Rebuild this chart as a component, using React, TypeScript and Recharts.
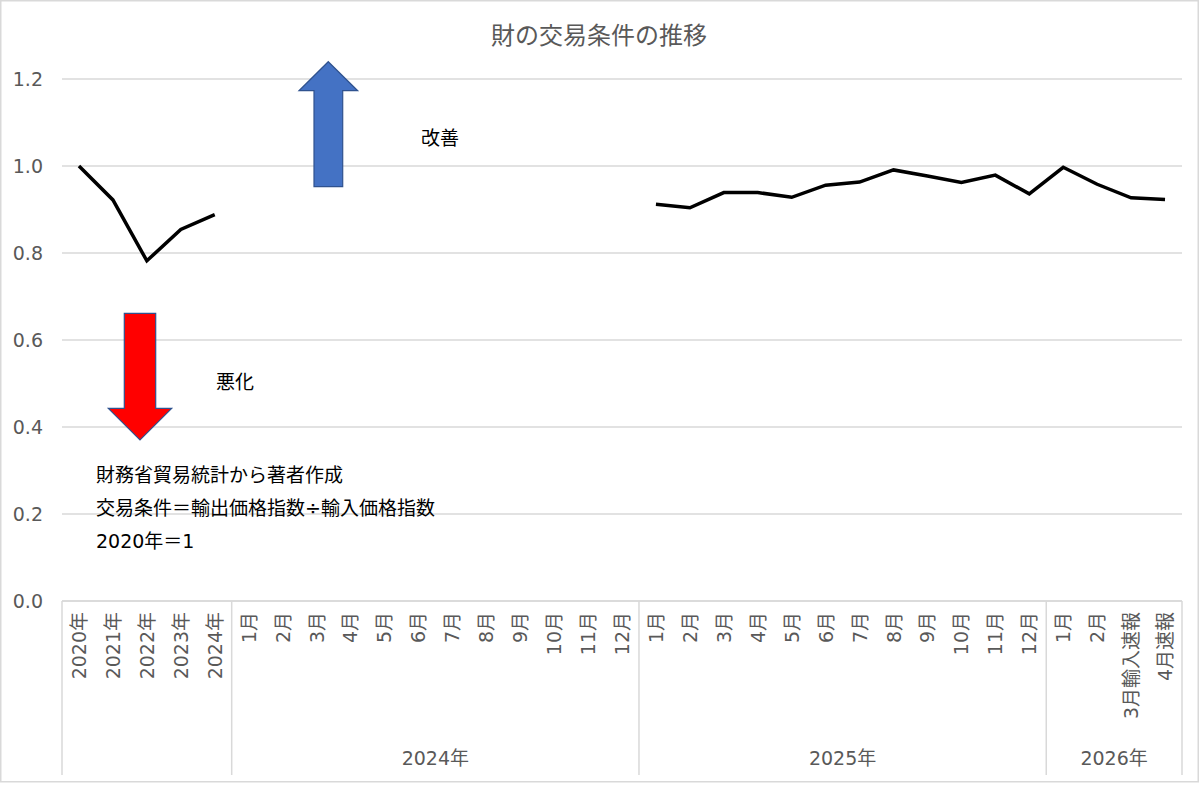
import React from 'react';
import { LineChart, Line, XAxis, YAxis, CartesianGrid } from 'recharts';

// ---- data ----
const categories: string[] = [
  '2020年', '2021年', '2022年', '2023年', '2024年',
  '1月', '2月', '3月', '4月', '5月', '6月', '7月', '8月', '9月', '10月', '11月', '12月',
  '1月', '2月', '3月', '4月', '5月', '6月', '7月', '8月', '9月', '10月', '11月', '12月',
  '1月', '2月', '3月輸入速報', '4月速報',
];

const termsOfTrade: (number | null)[] = [
  1.0, 0.922, 0.782, 0.854, 0.888,
  null, null, null, null, null, null, null, null, null, null, null, null,
  0.912, 0.904, 0.939, 0.939, 0.928, 0.956, 0.963, 0.991, 0.977, 0.962, 0.979, 0.936,
  0.997, 0.958, 0.927, 0.923,
];

const groupLabels: string[] = ['', '2024年', '2025年', '2026年'];
const groupSizes: number[] = [5, 12, 12, 4];

const yTicks: number[] = [0, 0.2, 0.4, 0.6, 0.8, 1.0, 1.2];

const title = '財の交易条件の推移';
const upLabel = '改善';
const downLabel = '悪化';
const notes: string[] = ['財務省貿易統計から著者作成', '交易条件＝輸出価格指数÷輸入価格指数', '2020年＝1'];

// ---- layout ----
const W = 1200;
const H = 785;
const MARGIN = { top: 79, right: 18, bottom: 0, left: 0 };
const Y_AXIS_W = 62;
const X_AXIS_H = 184;
const PLOT_LEFT = MARGIN.left + Y_AXIS_W;
const PLOT_RIGHT = W - MARGIN.right;
const PLOT_BOTTOM = H - MARGIN.bottom - X_AXIS_H;
const BAND = (PLOT_RIGHT - PLOT_LEFT) / categories.length;
const HALF = BAND / 2;

const FONT = '"DejaVu Sans", "Noto Sans CJK JP", sans-serif';
const GRAY_TEXT = '#595959';
const GRID = '#d9d9d9';

const data = categories.map((c, i) => ({ cat: c, value: termsOfTrade[i] }));

// group starts / centers
const groupStarts: number[] = [];
{
  let s = 0;
  groupSizes.forEach((n) => {
    groupStarts.push(s);
    s += n;
  });
}

const XTick = (props: any) => {
  const { x, payload } = props;
  const index: number = payload.index;
  const label = categories[index];
  const elems: React.ReactNode[] = [];
  const textY = PLOT_BOTTOM + 11;
  elems.push(
    <text
      key="t"
      x={0}
      y={0}
      transform={`translate(${x},${textY}) rotate(-90)`}
      textAnchor="end"
      dominantBaseline="central"
      fill={GRAY_TEXT}
      fontSize={19}
      fontFamily={FONT}
    >
      {label}
    </text>
  );
  const gi = groupStarts.indexOf(index);
  if (gi >= 0) {
    elems.push(
      <line key="s" x1={x - HALF} x2={x - HALF} y1={PLOT_BOTTOM} y2={PLOT_BOTTOM + 174} stroke={GRID} strokeWidth={1.5} />
    );
  }
  if (index === categories.length - 1) {
    elems.push(
      <line key="e" x1={x + HALF} x2={x + HALF} y1={PLOT_BOTTOM} y2={PLOT_BOTTOM + 174} stroke={GRID} strokeWidth={1.5} />
    );
  }
  groupStarts.forEach((start, g) => {
    const mid = start + (groupSizes[g] - 1) / 2;
    if (Math.floor(mid) === index && groupLabels[g]) {
      const cx = x + (mid - index) * BAND;
      elems.push(
        <text
          key={'g' + g}
          x={cx}
          y={PLOT_BOTTOM + 157}
          textAnchor="middle"
          dominantBaseline="central"
          fill={GRAY_TEXT}
          fontSize={19}
          fontFamily={FONT}
        >
          {groupLabels[g]}
        </text>
      );
    }
  });
  return <g>{elems}</g>;
};

const YTick = (props: any) => {
  const { y, payload } = props;
  return (
    <text
      x={PLOT_LEFT - 19}
      y={y}
      textAnchor="end"
      dominantBaseline="central"
      fill={GRAY_TEXT}
      fontSize={19}
      fontFamily={FONT}
    >
      {Number(payload.value).toFixed(1)}
    </text>
  );
};

export default function App() {
  return (
    <div style={{ position: 'absolute', left: 0, top: 0, width: W, height: H, background: '#fff' }}>
      <LineChart width={W} height={H} data={data} margin={MARGIN}>
        <CartesianGrid horizontal vertical={false} stroke={GRID} strokeWidth={1.5} />
        <XAxis
          dataKey="cat"
          type="category"
          interval={0}
          height={X_AXIS_H}
          padding={{ left: HALF, right: HALF }}
          tickLine={false}
          axisLine={{ stroke: GRID, strokeWidth: 1.5 }}
          tick={<XTick />}
        />
        <YAxis
          width={Y_AXIS_W}
          domain={[0, 1.2]}
          ticks={yTicks}
          axisLine={false}
          tickLine={false}
          tick={<YTick />}
        />
        <Line
          type="linear"
          dataKey="value"
          stroke="#000"
          strokeWidth={3.5}
          dot={false}
          connectNulls={false}
          isAnimationActive={false}
        />
      </LineChart>
      <svg
        width={W}
        height={H}
        style={{ position: 'absolute', left: 0, top: 0, pointerEvents: 'none' }}
      >
        <rect x={0.75} y={0.75} width={W - 2.5} height={H - 4} fill="none" stroke={GRID} strokeWidth={1.5} />
        <text x={599} y={36} textAnchor="middle" dominantBaseline="central" fill={GRAY_TEXT} fontSize={24} fontFamily={FONT}>
          {title}
        </text>
        <polygon
          points="328.3,61.7 357.7,90.7 342.7,90.7 342.7,186.7 314,186.7 314,90.7 299,90.7"
          fill="#4472C4"
          stroke="#2F528F"
          strokeWidth={1.2}
        />
        <polygon
          points="124.3,313.3 155.7,313.3 155.7,408.3 171.7,408.3 140,440 108.3,408.3 124.3,408.3"
          fill="#FF0000"
          stroke="#2F528F"
          strokeWidth={1.2}
        />
        <text x={421} y={138} dominantBaseline="central" fill="#000" fontSize={19} fontFamily={FONT}>
          {upLabel}
        </text>
        <text x={216} y={382} dominantBaseline="central" fill="#000" fontSize={19} fontFamily={FONT}>
          {downLabel}
        </text>
        {notes.map((n, i) => (
          <text key={i} x={96} y={475 + i * 33} dominantBaseline="central" fill="#000" fontSize={19} fontFamily={FONT}>
            {n}
          </text>
        ))}
      </svg>
    </div>
  );
}
